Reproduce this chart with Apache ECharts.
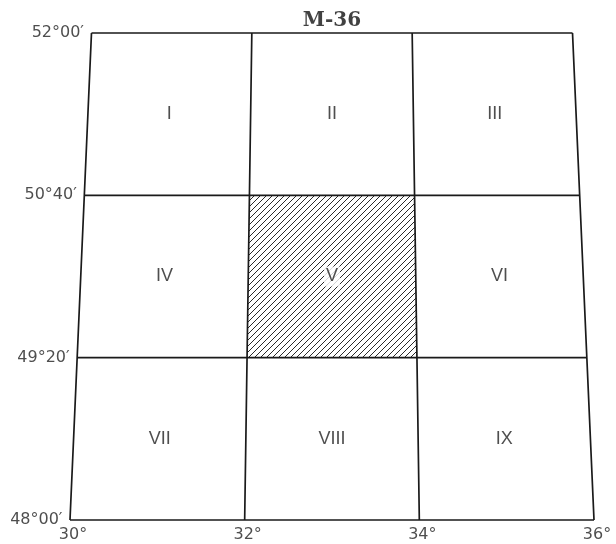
<!DOCTYPE html>
<html><head><meta charset="utf-8">
<script src="https://cdn.jsdelivr.net/npm/echarts@6/dist/echarts.min.js"></script>
<style>html,body{margin:0;padding:0;background:#fff}#c{width:616px;height:544px}</style>
</head><body><div id="c"></div>
<script>
const sheetTitle = 'M-36';
const lonTicks = [30, 32, 34, 36];
const lonLabels = ['30°', '32°', '34°', '36°'];
const latTicks = [48, 49 + 20 / 60, 50 + 40 / 60, 52];
const latLabels = ['48°00′', '49°20′', '50°40′', '52°00′'];
// sheet numbers, row by row from north to south, west to east
const cellNames = ['I', 'II', 'III', 'IV', 'V', 'VI', 'VII', 'VIII', 'IX'];
const highlighted = ['V'];

// simple trapezoidal sheet projection: parallels shrink toward the north
const TAPER = 0.0205;
const LON0 = 33;
function proj(lon, lat) {
  return [LON0 + (lon - LON0) * (1 - TAPER * (lat - latTicks[0])), lat];
}

const nRows = latTicks.length - 1, nCols = lonTicks.length - 1;
const cells = cellNames.map((name, i) => {
  const r = Math.floor(i / nCols), c = i % nCols;
  const latHi = latTicks[nRows - r], latLo = latTicks[nRows - r - 1];
  const lonLo = lonTicks[c], lonHi = lonTicks[c + 1];
  return { name, lonLo, lonHi, latLo, latHi };
});

// hatch pattern
const pc = document.createElement('canvas');
pc.width = 6; pc.height = 6;
const g = pc.getContext('2d');
g.strokeStyle = '#2a2a2a'; g.lineWidth = 1;
g.beginPath();
g.moveTo(-1, 7); g.lineTo(7, -1);
g.moveTo(-1, 1); g.lineTo(1, -1);
g.moveTo(5, 7); g.lineTo(7, 5);
g.stroke();

const LINE_COLOR = '#1a1a1a';
const TEXT_COLOR = '#222';

const series = [];

series.push({
  type: 'custom',
  silent: true,
  z: 1,
  data: cells.filter(c => highlighted.includes(c.name)).map(c => [c.lonLo, c.latLo, c.lonHi, c.latHi]),
  renderItem: function (params, api) {
    const a = api.value(0), b = api.value(1), cc = api.value(2), d = api.value(3);
    const pts = [proj(a, b), proj(cc, b), proj(cc, d), proj(a, d)].map(p => api.coord(p));
    return { type: 'polygon', shape: { points: pts }, style: { fill: { image: pc, repeat: 'repeat' }, stroke: null } };
  }
});

latTicks.forEach(lat => {
  series.push({
    type: 'line', silent: true, clip: false, symbol: 'none', z: 2,
    lineStyle: { color: LINE_COLOR, width: 1.7 },
    data: lonTicks.map(lon => proj(lon, lat))
  });
});
lonTicks.forEach(lon => {
  series.push({
    type: 'line', silent: true, clip: false, symbol: 'none', z: 2,
    lineStyle: { color: LINE_COLOR, width: 1.7 },
    data: latTicks.map(lat => proj(lon, lat))
  });
});

const labelBase = { show: true, color: TEXT_COLOR, fontFamily: 'DejaVu Sans', fontSize: 16 };

series.push({
  type: 'scatter', silent: true, clip: false, symbolSize: 1, z: 5,
  itemStyle: { color: 'rgba(0,0,0,0)' },
  data: latTicks.map((lat, i) => ({ value: proj(lonTicks[0], lat), name: latLabels[i] })),
  label: Object.assign({}, labelBase, { position: 'left', distance: 7, formatter: '{b}' })
});
series.push({
  type: 'scatter', silent: true, clip: false, symbolSize: 1, z: 5,
  itemStyle: { color: 'rgba(0,0,0,0)' },
  data: lonTicks.map((lon, i) => ({ value: proj(lon, latTicks[0]), name: lonLabels[i] })),
  label: Object.assign({}, labelBase, { position: 'bottom', distance: 6, offset: [3, 0], formatter: '{b}' })
});
series.push({
  type: 'scatter', silent: true, clip: false, symbolSize: 1, z: 5,
  itemStyle: { color: 'rgba(0,0,0,0)' },
  data: cells.map(c => ({
    value: proj((c.lonLo + c.lonHi) / 2, (c.latLo + c.latHi) / 2),
    name: c.name,
    label: highlighted.includes(c.name) ? { backgroundColor: '#fff', padding: [1, 2] } : {}
  })),
  label: { show: true, position: 'inside', formatter: '{b}', color: TEXT_COLOR, fontFamily: 'Liberation Sans', fontSize: 18 }
});
series.push({
  type: 'scatter', silent: true, clip: false, symbolSize: 1, z: 5,
  itemStyle: { color: 'rgba(0,0,0,0)' },
  data: [{ value: proj(LON0, latTicks[latTicks.length - 1]), name: sheetTitle }],
  label: { show: true, position: 'top', distance: 2, formatter: '{b}', color: '#111', fontFamily: 'DejaVu Serif', fontWeight: 'bold', fontSize: 20 }
});

const chart = echarts.init(document.getElementById('c'), null, { renderer: 'canvas' });
chart.setOption({
  backgroundColor: '#fff',
  animation: false,
  grid: { left: 70, right: 22, top: 33, bottom: 24 },
  xAxis: { type: 'value', min: lonTicks[0], max: lonTicks[lonTicks.length - 1], show: false },
  yAxis: { type: 'value', min: latTicks[0], max: latTicks[latTicks.length - 1], show: false },
  series: series
});
</script>
</body></html>
